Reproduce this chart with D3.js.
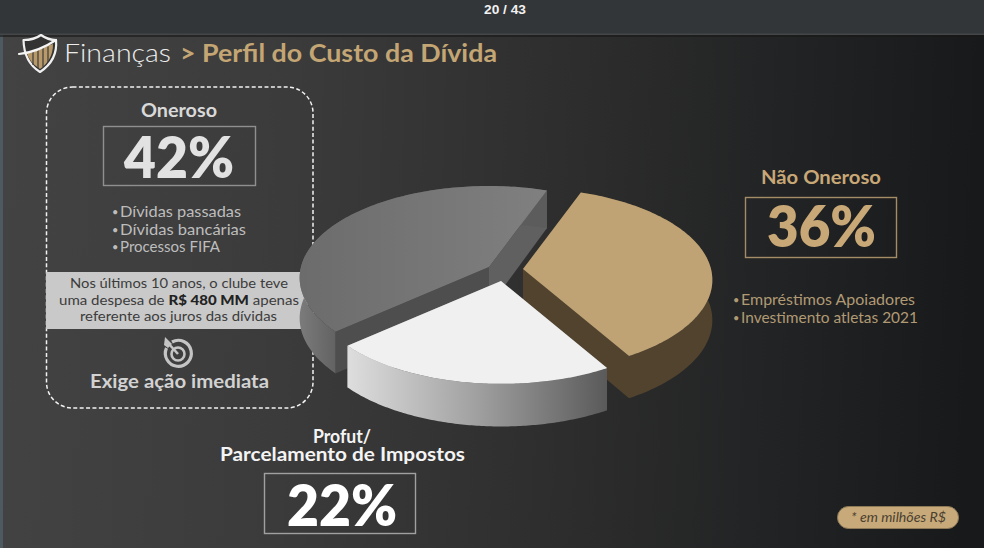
<!DOCTYPE html>
<html><head><meta charset="utf-8">
<script src="https://cdn.jsdelivr.net/npm/d3@7"></script>
<style>html,body{margin:0;padding:0;background:#222}svg{display:block}text{font-family:Lato,"Noto Sans",sans-serif}</style>
</head><body>
<svg id="c" width="984" height="548"></svg>
<script>
const categories = ["Não Oneroso", "Profut/ Parcelamento de Impostos", "Oneroso"];
const shares = [36, 22, 42];
const onerosoItems = ["Dívidas passadas", "Dívidas bancárias", "Processos FIFA"];
const naoOnerosoItems = ["Empréstimos Apoiadores", "Investimento atletas 2021"];

const svg = d3.select("#c");
const defs = svg.append("defs");
function grad(id, x1, y1, x2, y2, stops) {
  const g = defs.append("linearGradient").attr("id", id).attr("x1", x1).attr("y1", y1).attr("x2", x2).attr("y2", y2).attr("gradientUnits", "userSpaceOnUse");
  stops.forEach(s => g.append("stop").attr("offset", s[0]).attr("stop-color", s[1]));
}
grad("bg", 0, 0, 984, 40, [[0, "#434343"], [.3, "#3b3b3b"], [.57, "#2e2e2e"], [.8, "#222324"], [1, "#18191b"]]);
grad("grayTop", 300, 0, 550, 0, [[0, "#6c6c6c"], [1, "#808080"]]);
grad("grayRim", 301, 0, 345, 0, [[0, "#7a7a7a"], [1, "#5c5c5c"]]);
grad("whiteRim", 347, 0, 607, 0, [[0, "#dedede"], [.5, "#a0a0a0"], [1, "#5a5a5a"]]);

svg.append("rect").attr("width", 984).attr("height", 548).attr("fill", "url(#bg)");
svg.append("rect").attr("y", 35).attr("width", 3).attr("height", 513).attr("fill", "#4d5a60");
svg.append("rect").attr("y", 35).attr("width", 984).attr("height", 2).attr("fill", "#181818").attr("opacity", .6);
svg.append("rect").attr("width", 984).attr("height", 35).attr("fill", "#323639");
svg.append("rect").attr("y", 33.5).attr("width", 984).attr("height", 1.5).attr("fill", "#444648");

// Fitted text helper: x0..x1 is the ink span in the reference
function label(parent, x0, x1, y, size, weight, fill, str, opt) {
  const t = parent.append("text").attr("x", x0).attr("y", y)
    .attr("font-size", size).attr("font-weight", weight).attr("fill", fill)
    .attr("textLength", x1 - x0).attr("lengthAdjust", "spacingAndGlyphs");
  if (str != null) t.text(str);
  if (opt && opt.family) t.style("font-family", opt.family);
  if (opt && opt.italic) t.attr("font-style", "italic");
  return t;
}
function bullet(parent, x, y, fill) {
  parent.append("text").attr("x", x).attr("y", y).attr("font-size", 11).attr("fill", fill).text("•");
}

label(svg, 484, 526, 14, 13, 700, "#f1f1f1", "20 / 43", {family: '"Liberation Sans"'});

// Shield logo
const logo = svg.append("g");
logo.append("path").attr("d", "M23.5 40 Q34 40 41 35 Q48 40 56 40 Q58 60 40 72 Q24 62 23.5 40Z")
  .attr("fill", "#333").attr("stroke", "#f0f0f0").attr("stroke-width", 2.2).attr("stroke-linejoin", "round");
logo.append("path").attr("d", "M27 53 L53 44 Q53 60 40 69 Q29 62 27 53Z").attr("fill", "#b89a6a");
[33, 38, 43, 48].forEach((x, i) => logo.append("line").attr("x1", x).attr("x2", x).attr("y1", 51 - i * 1.6).attr("y2", [65, 68, 67, 62][i])
  .attr("stroke", "#3a3a3a").attr("stroke-width", 1.2));
logo.append("path").attr("d", "M19 54 Q38 52 56 40").attr("fill", "none").attr("stroke", "#f4f4f4").attr("stroke-width", 2.2).attr("stroke-linecap", "round");

label(svg, 64, 171, 62, 26, 300, "#ececec", "Finanças");
label(svg, 180, 497, 62, 25, 700, "#c4a674", "> Perfil do Custo da Dívida");

// Oneroso panel
svg.append("rect").attr("x", 46.5).attr("y", 87).attr("width", 266.5).attr("height", 321).attr("rx", 26)
  .attr("fill", "none").attr("stroke", "#f2f2f2").attr("stroke-width", 1.5).attr("stroke-dasharray", "4 2.4");
label(svg, 141, 217, 117, 18, 700, "#d9d9d9", categories[2]);
svg.append("rect").attr("x", 103.5).attr("y", 126.5).attr("width", 152).attr("height", 59).attr("fill", "none").attr("stroke", "#8f8f8f").attr("stroke-width", 1.4);
label(svg, 124, 234, 178, 57, 800, "#e2e2e2", shares[2] + "%");
[[120, 241, 217], [120, 246, 235], [120, 220, 252]].forEach((p, i) => {
  bullet(svg, 112, p[2] - 1, "#bdbdbd");
  label(svg, p[0], p[1], p[2], 15, 400, "#bdbdbd", onerosoItems[i]);
});

svg.append("rect").attr("x", 46).attr("y", 272).attr("width", 262).attr("height", 57).attr("fill", "#c9c9c9");
label(svg, 70, 288, 288, 14, 400, "#3c3c3c", "Nos últimos 10 anos, o clube teve");
const l2 = label(svg, 59, 299, 305, 14, 400, "#3c3c3c");
l2.append("tspan").text("uma despesa de ");
l2.append("tspan").attr("font-weight", 900).attr("fill", "#222").text("R$ 480 MM");
l2.append("tspan").text(" apenas");
label(svg, 80, 277, 321, 14, 400, "#3c3c3c", "referente aos juros das dívidas");

// Target icon
const ic = svg.append("g").attr("fill", "none").attr("stroke", "#c4c4c4");
ic.append("path").attr("d", "M172 342 A13 13 0 1 1 166.5 348").attr("stroke-width", 3.2);
ic.append("circle").attr("cx", 178).attr("cy", 354).attr("r", 6.5).attr("stroke-width", 2.6);
ic.append("line").attr("x1", 168).attr("y1", 343).attr("x2", 178).attr("y2", 354).attr("stroke-width", 2.6);
ic.append("path").attr("d", "M165 337 L172 344 L168 348 L164 345Z").attr("fill", "#c4c4c4").attr("stroke", "none");
label(svg, 90, 269, 388, 18, 700, "#d2d2d2", "Exige ação imediata");

// Não Oneroso panel
const tan = "#c8a876";
label(svg, 761, 881, 184, 18, 700, tan, categories[0]);
svg.append("rect").attr("x", 745.5).attr("y", 197.5).attr("width", 151).attr("height", 60).attr("fill", "none").attr("stroke", "#a48c66").attr("stroke-width", 1.4);
label(svg, 767, 876, 247, 57, 800, tan, shares[0] + "%");
[[741, 915, 305], [741, 918, 323]].forEach((p, i) => {
  bullet(svg, 733, p[2] - 1, "#b09a74");
  label(svg, p[0], p[1], p[2], 15, 400, "#b09a74", naoOnerosoItems[i]);
});

// Profut panel
label(svg, 313, 371, 443, 18, 700, "#f4f4f4", "Profut/");
label(svg, 220, 465, 461, 18, 700, "#f4f4f4", "Parcelamento de Impostos");
svg.append("rect").attr("x", 264.5).attr("y", 473.5).attr("width", 151).attr("height", 60).attr("fill", "none").attr("stroke", "#a0a0a0").attr("stroke-width", 1.4);
label(svg, 287, 397, 526, 57, 800, "#ffffff", shares[1] + "%");

// Footnote pill
svg.append("rect").attr("x", 837.5).attr("y", 506.5).attr("width", 121).attr("height", 22).attr("rx", 11).attr("fill", "#c8aa7a").attr("stroke", "#8f7a58");
label(svg, 851, 946, 522, 13, 400, "#4a4030", "* em milhões R$", {italic: true});

// Perspective pie: angles from d3.pie, projected onto a tilted plane
const toRad = Math.PI / 180;
const pie = d3.pie().sort(null).startAngle(20 * toRad).endAngle(380 * toRad);
const arcs = pie(shares);
const R = 188, tilt = 90.6, persp = 0.119, depth = 40;
const style = [
  {o: [523, 269], top: "#c0a375", rim: "#51432e", w1: "#51432e", w2: "#51432e"},
  {o: [501, 281], top: "#f0f0f0", rim: "url(#whiteRim)", w1: "#8a8a8a", w2: "#8a8a8a"},
  {o: [489, 267], top: "url(#grayTop)", rim: "url(#grayRim)", w1: "#4e4e4e", w2: "#606060"}
];
function project(th, r, o, dz) {
  const X = Math.sin(th) * r, Z = -Math.cos(th) * r, s = 1 / (1 - persp * Z);
  return [o[0] + R * X * s, o[1] + tilt * Z * s + dz * Math.sqrt(s)];
}
const line = d3.line();
const pieG = svg.append("g");
[2, 0, 1].forEach(i => {
  const a = arcs[i], st = style[i];
  const ths = d3.range(0, 121).map(k => a.startAngle + (a.endAngle - a.startAngle) * k / 120);
  const upper = ths.map(t => project(t, 1, st.o, 0));
  const lower = ths.map(t => project(t, 1, st.o, depth));
  const apex = st.o, apexL = [st.o[0], st.o[1] + depth];
  pieG.append("path").attr("d", line([apex, upper[0], lower[0], apexL]) + "Z").attr("fill", st.w1);
  pieG.append("path").attr("d", line([apex, upper[120], lower[120], apexL]) + "Z").attr("fill", st.w2);
  pieG.append("path").attr("d", line(upper.concat(lower.slice().reverse())) + "Z").attr("fill", st.rim);
  pieG.append("path").attr("d", line([apex].concat(upper)) + "Z").attr("fill", st.top);
});
</script>
</body></html>
